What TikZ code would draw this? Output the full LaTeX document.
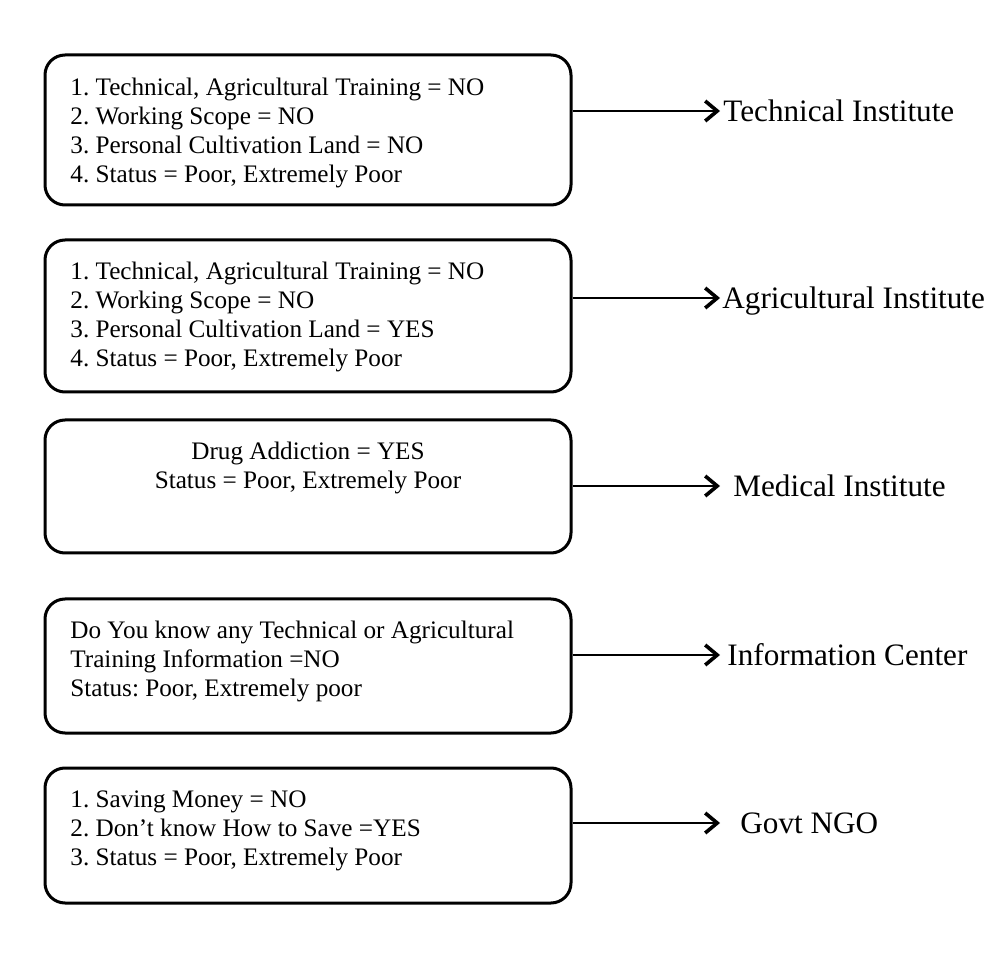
\documentclass[tikz,border=0pt]{standalone}
\usepackage{fontspec}
\setmainfont{Liberation Serif}
\usetikzlibrary{arrows.meta}
\frenchspacing

\tikzset{
  infobox/.style={draw, line width=1.5pt, rounded corners=10pt,
    minimum width=263pt, minimum height=#1, inner sep=0pt},
  boxtext/.style={anchor=north west, inner sep=0pt, align=left,
    font=\fontsize{12.6}{14.5}\selectfont},
  target/.style={anchor=west, inner ysep=0pt, text height=10.3pt, text depth=0pt,
    font=\fontsize{15.6}{18}\selectfont},
  link/.style={line width=0.8pt,
    -{Straight Barb[length=6pt,width=10pt,line width=1.8pt]}},
}

\begin{document}
\begin{tikzpicture}[x=0.5pt, y=-0.5pt]
  \useasboundingbox (0,0) rectangle (1003,957);

  % --- Boxes ---
  \node[infobox=75pt]   (b1) at (308,130)   {};
  \node[infobox=76pt]   (b2) at (308,316)   {};
  \node[infobox=66.5pt] (b3) at (308,486.5) {};
  \node[infobox=67pt]   (b4) at (308,666)   {};
  \node[infobox=67.5pt] (b5) at (308,835.5) {};

  % --- Box texts ---
  \node[boxtext] (q1) at (70,78) {1. Technical, Agricultural Training = NO\\
    2. Working Scope = NO\\ 3. Personal Cultivation Land = NO\\
    4. Status = Poor, Extremely Poor};
  \node[boxtext] (q2) at (70,262) {1. Technical, Agricultural Training = NO\\
    2. Working Scope = NO\\ 3. Personal Cultivation Land = YES\\
    4. Status = Poor, Extremely Poor};
  \node[boxtext, anchor=north, align=center] (q3) at (308,442)
    {Drug Addiction = YES\\ Status = Poor, Extremely Poor};
  \node[boxtext] (q4) at (70,621) {Do You know any Technical or Agricultural\\
    Training Information =NO\\ Status: Poor, Extremely poor};
  \node[boxtext] (q5) at (70,790) {1. Saving Money = NO\\
    2. Don’t know How to Save =YES\\ 3. Status = Poor, Extremely Poor};

  % --- Targets ---
  \node[target, inner xsep=1.5pt] (t1) at (720,111) {Technical Institute};
  \node[target, inner xsep=1pt]   (t2) at (720,298) {Agricultural Institute};
  \node[target, inner xsep=6.5pt] (t3) at (720,486) {Medical Institute};
  \node[target, inner xsep=3.5pt] (t4) at (720,655) {Information Center};
  \node[target, inner xsep=10pt]  (t5) at (720,823) {Govt NGO};

  % --- Arrows ---
  \foreach \i in {1,...,5}
    \draw[link] (b\i.east |- t\i.west) -- (t\i.west);
\end{tikzpicture}
\end{document}
